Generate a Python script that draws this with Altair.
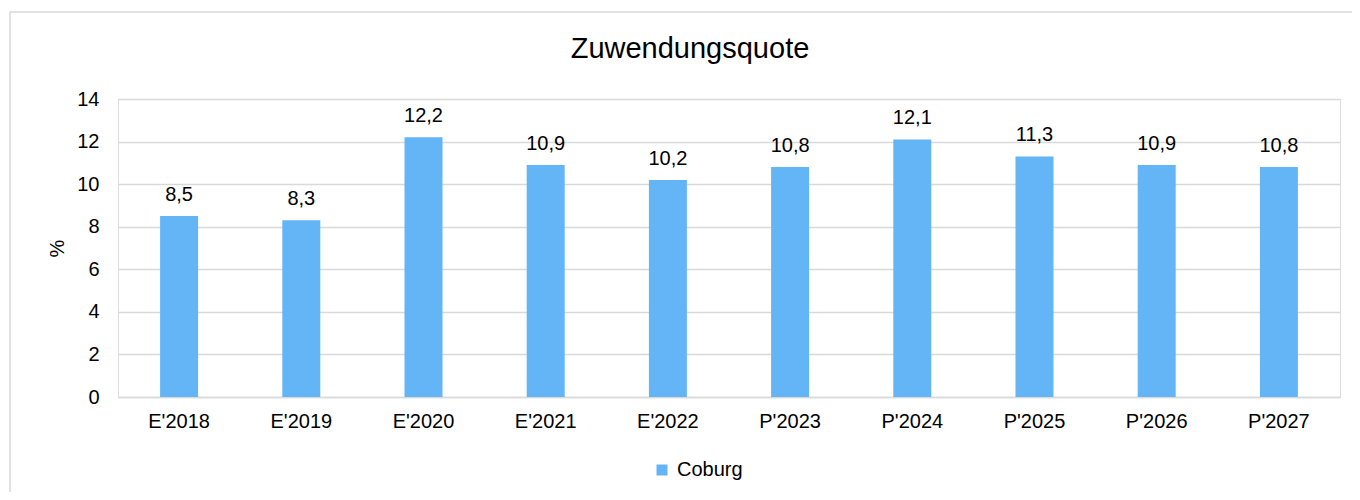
import altair as alt
import pandas as pd

categories = ["E'2018", "E'2019", "E'2020", "E'2021", "E'2022",
              "P'2023", "P'2024", "P'2025", "P'2026", "P'2027"]
values = [8.5, 8.3, 12.2, 10.9, 10.2, 10.8, 12.1, 11.3, 10.9, 10.8]
series = "Coburg"
y_ticks = [0, 2, 4, 6, 8, 10, 12, 14]

df = pd.DataFrame({"cat": categories, "value": values, "series": [series] * len(values)})

FONT = "Liberation Sans"
TXT = "#000000"
GRID = "#d9d9d9"

x_enc = alt.X("cat:N", sort=categories,
              scale=alt.Scale(paddingInner=0.689, paddingOuter=0.3445),
              axis=alt.Axis(title=None, labelAngle=0, labelFontSize=20, labelFont=FONT,
                            labelColor=TXT, ticks=False, domain=True, domainColor=GRID,
                            domainWidth=1.5, labelPadding=14, grid=False))
y_enc = alt.Y("value:Q", scale=alt.Scale(domain=[0, 14], nice=False),
              axis=alt.Axis(values=y_ticks, title="%", titleFontSize=20, titleFont=FONT,
                            titleFontWeight="normal", titleColor=TXT, titleAngle=270,
                            titleX=-61, titleY=149, titleAlign="center", titleBaseline="middle",
                            labelFontSize=20, labelFont=FONT, labelColor=TXT, labelPadding=19,
                            ticks=False, domain=False, grid=True, gridColor=GRID, gridWidth=1.5))

base = alt.Chart(df)

bars = base.mark_bar(size=38).encode(
    x=x_enc,
    y=y_enc,
    color=alt.Color("series:N", scale=alt.Scale(range=["#64B5F6"]),
                    legend=alt.Legend(title=None, orient="none", legendX=534, legendY=361,
                                      symbolType="square", symbolSize=121, symbolStrokeWidth=0,
                                      labelFontSize=20, labelFont=FONT, labelColor=TXT,
                                      labelOffset=5, padding=0)),
)

labels = base.transform_calculate(
    label="replace(format(datum.value, '.1f'), '.', ',')"
).mark_text(fontSize=20, font=FONT, color=TXT, baseline="alphabetic", dy=-15).encode(
    x=alt.X("cat:N", sort=categories),
    y="value:Q",
    text="label:N",
)

frame_df = pd.DataFrame({"k": [0]})
frame = alt.Chart(frame_df).mark_rect(fill=None, stroke=GRID, strokeWidth=1.5).encode(
    x=alt.value(-108), x2=alt.value(1300), y=alt.value(-87), y2=alt.value(420)
)

chart = alt.layer(frame, bars, labels).properties(
    width=1222, height=298,
    title=alt.TitleParams("Zuwendungsquote", fontSize=29, font=FONT, fontWeight="normal",
                          color=TXT, anchor="middle", dx=-39, offset=-76, baseline="alphabetic"),
    autosize=alt.AutoSizeParams(type="none"),
    padding={"left": 110, "top": 91, "right": 12, "bottom": 95},
).configure_view(stroke=None).configure(background="white")

chart.save("out.html", embed_options={"renderer": "svg", "actions": False})
